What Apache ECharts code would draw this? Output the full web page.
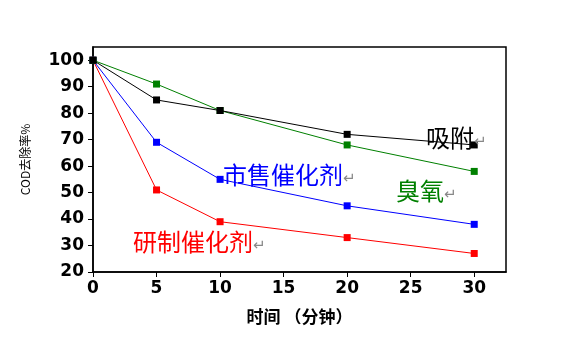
<!DOCTYPE html>
<html>
<head>
<meta charset="utf-8">
<script src="https://cdn.jsdelivr.net/npm/echarts@6/dist/echarts.min.js"></script>
<style>
	html, body { margin: 0; padding: 0; background: #fff; }
	#main { width: 585px; height: 354px; }
</style>
</head>
<body>
<div id="main"></div>
<script>
var times = [0, 5, 10, 20, 30];
var adsorb = [100, 85, 81, 72, 68];
var ozone = [100, 91, 81, 68, 58];
var commercial = [100, 69, 55, 45, 38];
var prepared = [100, 51, 39, 33, 27];

var seriesNames = ['吸附', '臭氧', '市售催化剂', '研制催化剂'];
var seriesColors = ['#000000', '#008000', '#0000ff', '#ff0000'];
var seriesValues = [adsorb, ozone, commercial, prepared];

function pairs(xs, ys) {
	var out = [];
	for (var i = 0; i < xs.length; i++) {
		out.push([xs[i], ys[i]]);
	}
	return out;
}

var series = [];
for (var s = 0; s < seriesNames.length; s++) {
	series.push({
		name : seriesNames[s],
		type : 'line',
		data : pairs(times, seriesValues[s]),
		symbol : 'rect',
		symbolSize : 7,
		lineStyle : { color : seriesColors[s], width : 1 },
		itemStyle : { color : seriesColors[s] },
		z : 10 - s
	});
}

var tickFont = {
	fontFamily : 'DejaVu Sans, sans-serif',
	fontWeight : 'bold',
	fontSize : 17,
	color : '#000'
};

function seriesLabel(text, color, left, top) {
	return {
		type : 'text',
		left : left,
		top : top,
		z : 100,
		style : {
			text : '{a|' + text + '}{b|↵}',
			rich : {
				a : { fontFamily : 'Noto Sans CJK SC', fontSize : 24, fill : color },
				b : { fontFamily : 'DejaVu Sans', fontSize : 15, fill : '#888888', padding : [8, 0, 0, 0] }
			}
		}
	};
}

var option = {
	animation : false,
	backgroundColor : '#fff',
	grid : {
		left : 93,
		right : 79,
		top : 47,
		bottom : 82,
		show : true,
		borderColor : '#000',
		borderWidth : 1.5
	},
	xAxis : {
		type : 'value',
		min : 0,
		max : 32.5,
		interval : 5,
		name : '时间 （分钟）',
		nameLocation : 'middle',
		nameGap : 36,
		nameTextStyle : {
			fontFamily : 'Noto Sans CJK SC',
			fontWeight : 'bold',
			fontSize : 17,
			color : '#000'
		},
		splitLine : { show : false },
		axisLine : { lineStyle : { color : '#000', width : 1.5 } },
		axisTick : { lineStyle : { color : '#000' }, length : 5 },
		axisLabel : Object.assign({ margin : 8, showMaxLabel : false }, tickFont)
	},
	yAxis : {
		type : 'value',
		min : 20,
		max : 105,
		interval : 10,
		name : 'COD去除率%',
		nameLocation : 'middle',
		nameGap : 62,
		nameTextStyle : {
			fontFamily : 'Noto Sans CJK SC',
			fontSize : 12,
			color : '#000'
		},
		splitLine : { show : false },
		axisLine : { lineStyle : { color : '#000', width : 1.5 } },
		axisTick : { lineStyle : { color : '#000' }, length : 5 },
		axisLabel : Object.assign({ margin : 9, showMaxLabel : false }, tickFont)
	},
	graphic : [
		seriesLabel('吸附', '#000000', 426, 126),
		seriesLabel('市售催化剂', '#0000ff', 223, 163),
		seriesLabel('臭氧', '#008000', 396, 179),
		seriesLabel('研制催化剂', '#ff0000', 133, 230)
	],
	series : series
};

var myChart = echarts.init(document.getElementById('main'));
myChart.setOption(option);
</script>
</body>
</html>
